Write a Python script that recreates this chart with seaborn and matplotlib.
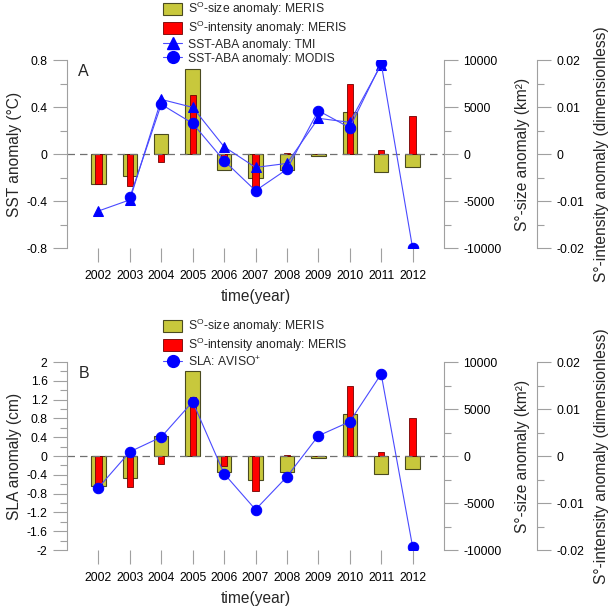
import numpy as np
import matplotlib
matplotlib.use("Agg")
import matplotlib.pyplot as plt
from matplotlib.patches import Patch
from matplotlib.lines import Line2D
from matplotlib.ticker import FixedLocator
import seaborn as sns

# data
years = np.arange(2002, 2013)
size_anom = [-3200, -2350, 2150, 9050, -1700, -2550, -1700, -200, 4450, -1950, -1400]
intensity_anom = [-0.0064, -0.0067, -0.0016, 0.0126, -0.0021, -0.0074, 0.0002, 0.0, 0.0149, 0.0009, 0.0081]

tmi_years = np.arange(2002, 2012)
sst_tmi = [-0.485, -0.39, 0.465, 0.397, 0.062, -0.114, -0.08, 0.304, 0.27, 0.76]
modis_years = np.arange(2003, 2013)
sst_modis = [-0.369, 0.423, 0.261, -0.057, -0.312, -0.13, 0.369, 0.224, 0.772, -0.80]

sla = [-0.674, 0.09, 0.404, 1.155, -0.376, -1.14, -0.44, 0.43, 0.73, 1.745, -1.93]

sst_ticks = [-0.8, -0.4, 0, 0.4, 0.8]
sla_ticks = [-2, -1.6, -1.2, -0.8, -0.4, 0, 0.4, 0.8, 1.2, 1.6, 2]
size_ticks = [-10000, -5000, 0, 5000, 10000]
int_ticks = [-0.02, -0.01, 0, 0.01, 0.02]

sns.set_style("ticks")
plt.rcParams["font.family"] = ["Liberation Sans", "DejaVu Sans"]
plt.rcParams["mathtext.fontset"] = "custom"
plt.rcParams["mathtext.rm"] = "Liberation Sans"

GRAY = "#a0a0a0"
OLIVE = "#c8c83c"
RED = "#ff0000"
BLUE = "#0000ff"
LINEBLUE = "#4a4aff"
TICKFS = 8.7
LABFS = 11.2


def fmt(v):
    return "{:g}".format(round(v, 4))


def style_axis(a, side):
    for s in ["top", "bottom", "left", "right"]:
        a.spines[s].set_visible(s == side)
    a.spines[side].set_color(GRAY)
    a.tick_params(axis="y", which="major", length=10, width=0.8, color=GRAY,
                  labelcolor="black", labelsize=TICKFS, pad=4)
    a.tick_params(axis="y", which="minor", length=5, width=0.8, color=GRAY)
    a.patch.set_visible(False)


def panel(rect, left_vals, left_ticks, minor_step, ylabel, letter):
    ax = fig.add_axes(rect)
    axs = ax.twinx()
    axi = ax.twinx()
    axi.spines["right"].set_position(("outward", 67))

    # bars
    sns.barplot(x=years, y=size_anom, native_scale=True, width=0.46, color=OLIVE,
                saturation=1, edgecolor="#4a4a20", linewidth=0.8, errorbar=None, ax=axs)
    sns.barplot(x=years, y=intensity_anom, native_scale=True, width=0.2, color=RED,
                saturation=1, edgecolor="#700000", linewidth=0.6, errorbar=None, ax=axi)

    # lines
    for xs, ys, mk, ms in left_vals:
        sns.lineplot(x=xs, y=ys, color=LINEBLUE, linewidth=0.8, marker=mk,
                     markersize=ms, markerfacecolor=BLUE, markeredgecolor=BLUE, ax=ax)
    ax.axhline(0, color="#707070", lw=0.9, ls=(0, (6, 4)), zorder=1)

    axs.set_zorder(1)
    axi.set_zorder(2)
    ax.set_zorder(3)

    style_axis(ax, "left")
    style_axis(axs, "right")
    style_axis(axi, "right")

    lo, hi = left_ticks[0], left_ticks[-1]
    ax.set_ylim(lo, hi)
    ax.set_yticks(left_ticks)
    ax.set_yticklabels([fmt(t) for t in left_ticks])
    ax.yaxis.set_minor_locator(FixedLocator(np.round(np.arange(lo, hi + 1e-9, minor_step), 4)))

    axs.set_ylim(-10000, 10000)
    axs.set_yticks(size_ticks)
    axs.set_yticklabels([fmt(t) for t in size_ticks])
    axs.yaxis.set_minor_locator(FixedLocator(np.arange(-10000, 10001, 2500)))

    axi.set_ylim(-0.02, 0.02)
    axi.set_yticks(int_ticks)
    axi.set_yticklabels([fmt(t) for t in int_ticks])
    axi.yaxis.set_minor_locator(FixedLocator(np.round(np.arange(-0.02, 0.02001, 0.005), 4)))

    ax.set_xlim(2001, 2013)
    for a in (axs, axi):
        a.set_xlim(2001, 2013)
        a.set_xlabel("")
    ax.set_xticks(years)
    ax.set_xticklabels([str(y) for y in years])
    ax.tick_params(axis="x", length=10, width=0.8, color=GRAY, labelcolor="black",
                   labelsize=TICKFS, pad=6)
    ax.set_xlabel("time(year)", fontsize=LABFS, labelpad=5)

    ax.set_ylabel(ylabel, fontsize=LABFS)
    ax.yaxis.set_label_coords(-0.138, 0.5)
    ax.yaxis.label.set_va("center")
    axs.set_ylabel("S°-size anomaly (km²)", fontsize=LABFS)
    axs.yaxis.set_label_coords(1.207, 0.5)
    axs.yaxis.label.set_va("center")
    axi.set_ylabel("S°-intensity anomaly (dimensionless)", fontsize=LABFS)
    axi.yaxis.set_label_coords(1.419, 0.5)
    axi.yaxis.label.set_va("center")

    ax.text(0.03, 0.94, letter, transform=ax.transAxes, fontsize=11.5, va="center", ha="left")
    return ax


fig = plt.figure(figsize=(6.12, 6.07), dpi=100)
fig.patch.set_facecolor("white")

ax_a = panel([0.1095, 0.5914, 0.616, 0.3097],
             [(tmi_years, sst_tmi, "^", 6.5), (modis_years, sst_modis, "o", 7.5)],
             sst_ticks, 0.2, "SST anomaly (°C)", "A")
ax_b = panel([0.1095, 0.0939, 0.616, 0.3097],
             [(years, sla, "o", 7.5)],
             sla_ticks, 0.2, "SLA anomaly (cm)", "B")

size_h = Patch(facecolor=OLIVE, edgecolor="#4a4a20", linewidth=0.8)
int_h = Patch(facecolor=RED, edgecolor="#700000", linewidth=0.6)
tmi_h = Line2D([], [], color=LINEBLUE, lw=0.8, marker="^", markersize=8, markerfacecolor=BLUE, markeredgecolor=BLUE)
modis_h = Line2D([], [], color=LINEBLUE, lw=0.8, marker="o", markersize=8.5, markerfacecolor=BLUE, markeredgecolor=BLUE)

leg_kw = dict(loc="upper left", frameon=False, fontsize=TICKFS, borderpad=0, borderaxespad=0,
              handlelength=1.6, handleheight=1.1, labelspacing=0.08, handletextpad=0.5)
fig.legend([size_h, int_h, tmi_h, modis_h],
           ["S$^\\mathregular{O}$-size anomaly: MERIS",
            "S$^\\mathregular{O}$-intensity anomaly: MERIS",
            "SST-ABA anomaly: TMI",
            "SST-ABA anomaly: MODIS"],
           bbox_to_anchor=(163 / 612, 1.0), **leg_kw)
fig.legend([size_h, int_h, modis_h],
           ["S$^\\mathregular{O}$-size anomaly: MERIS",
            "S$^\\mathregular{O}$-intensity anomaly: MERIS",
            "SLA: AVISO$^\\mathregular{+}$"],
           bbox_to_anchor=(163 / 612, 1 - 317 / 607), **leg_kw)

fig.savefig("out.png", dpi=100)
